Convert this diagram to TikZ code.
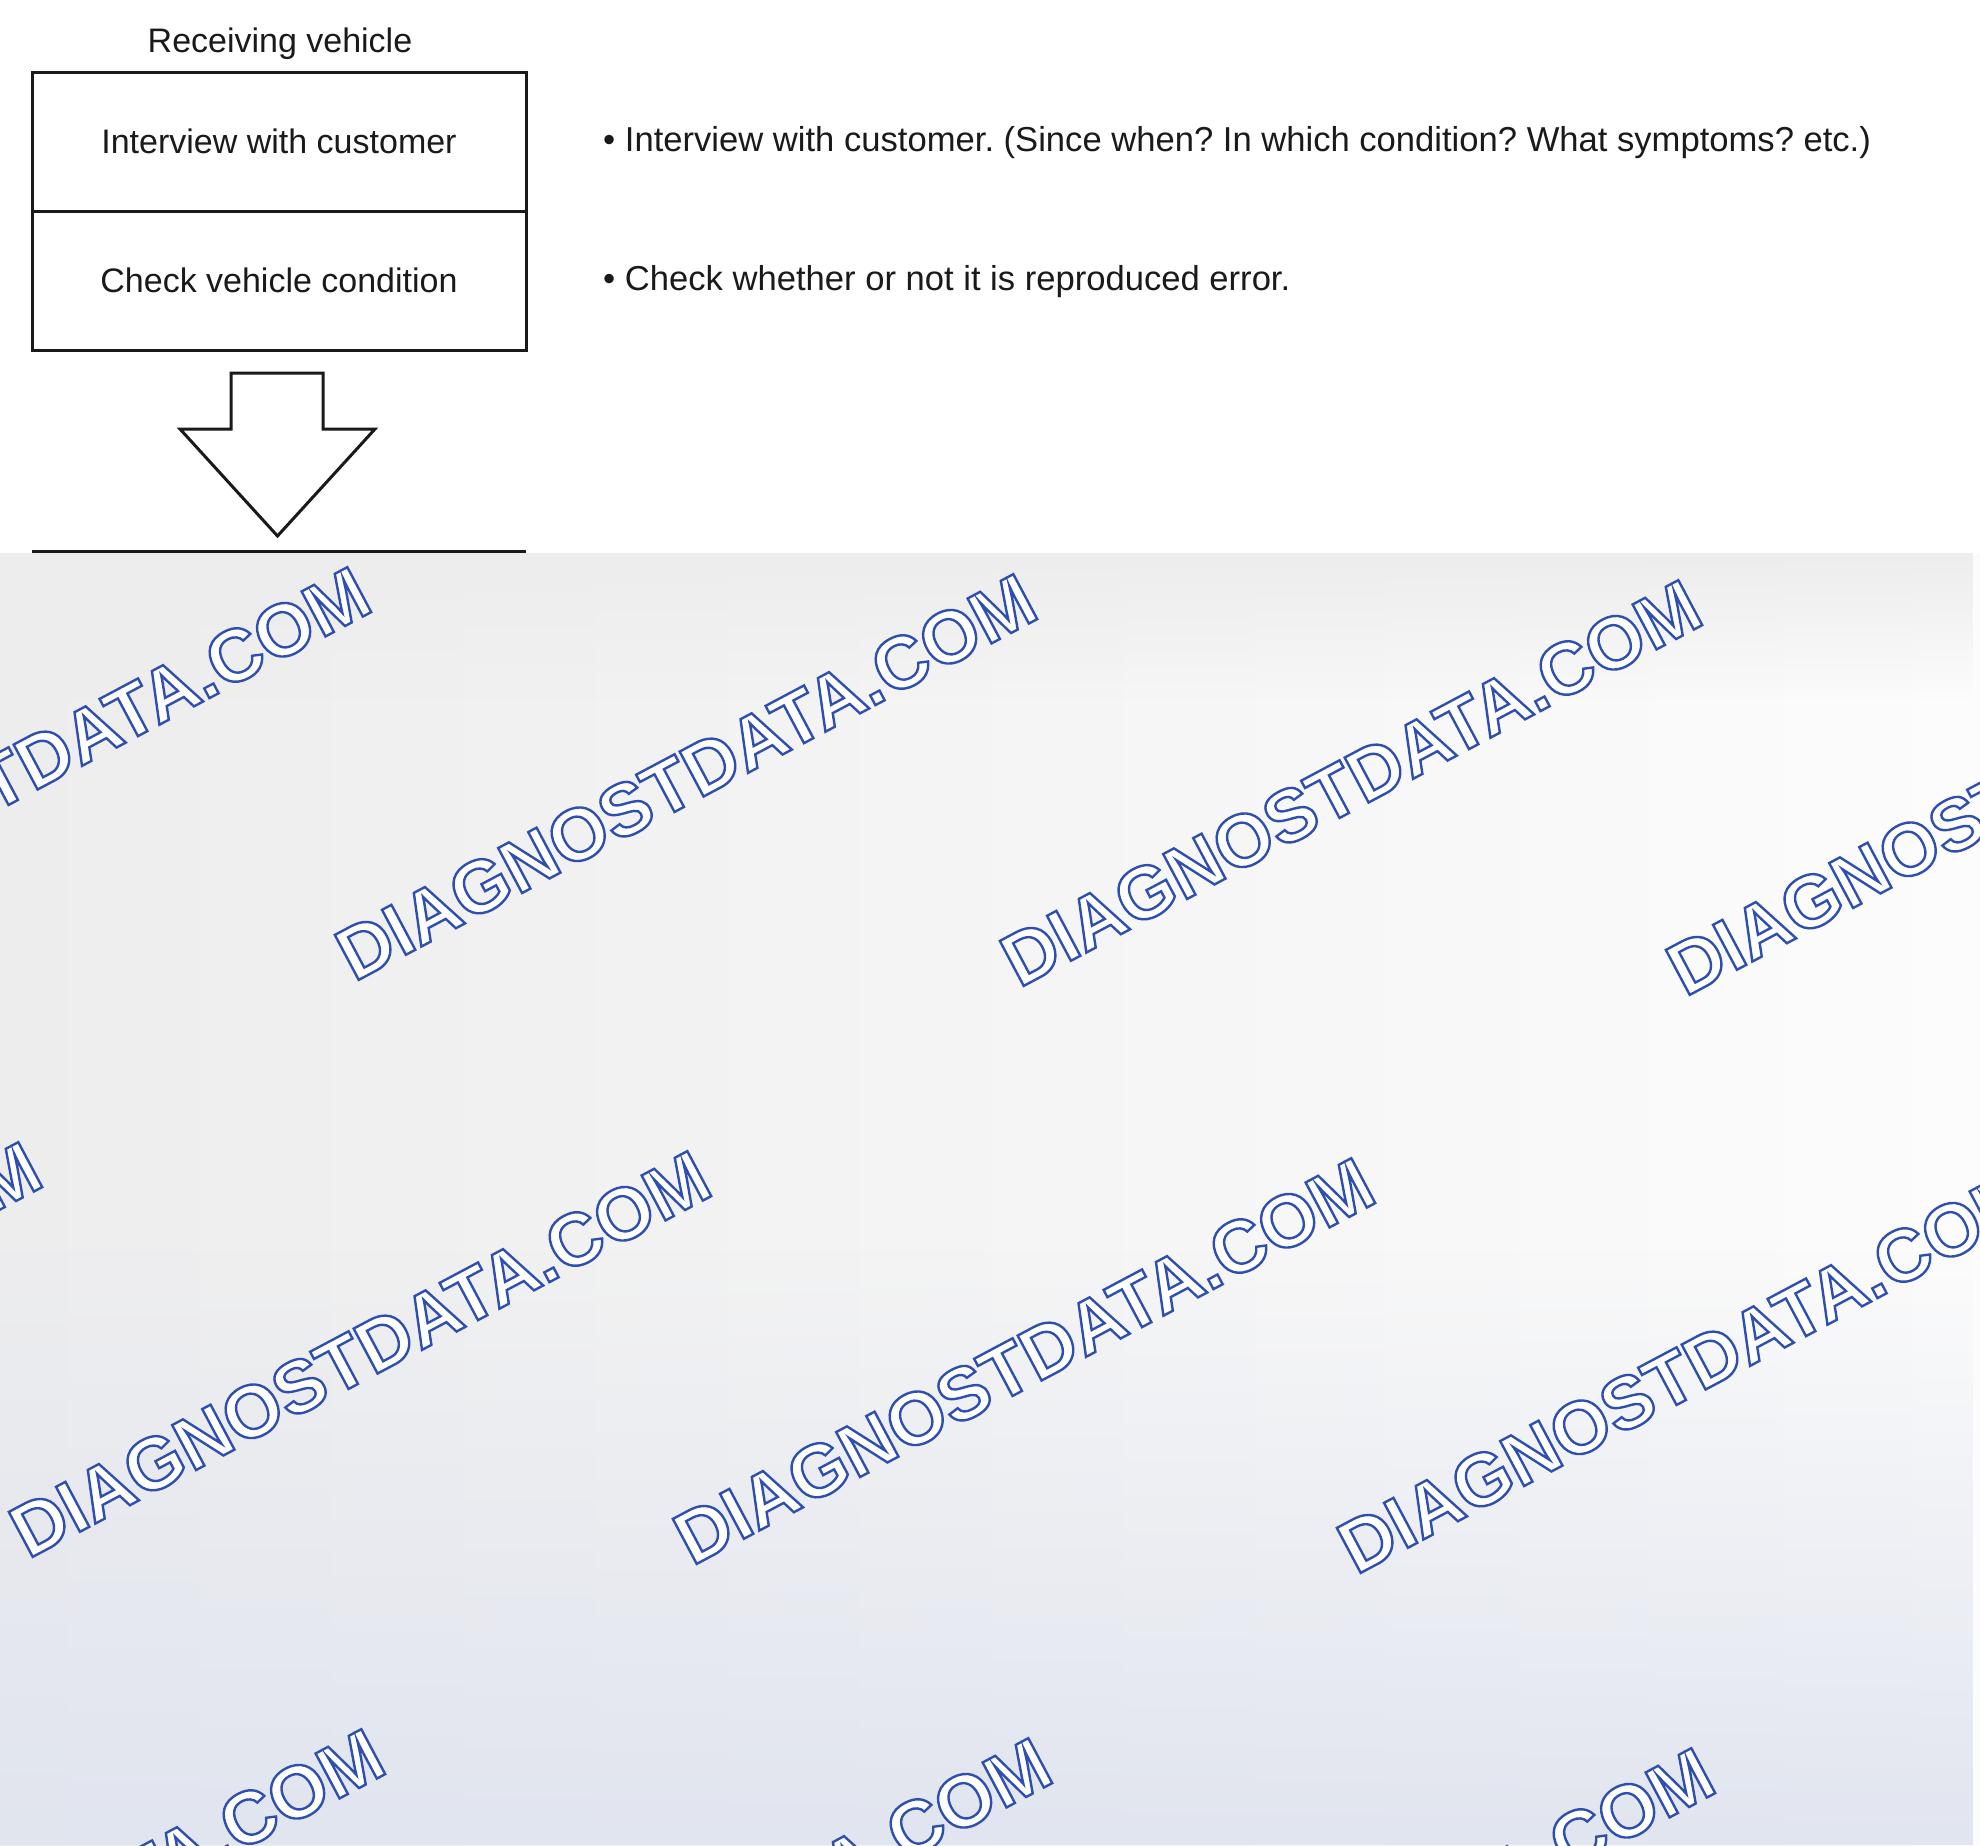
\documentclass[tikz,border=0pt]{standalone}
\usepackage{fontspec}
\setmainfont{Liberation Sans}
\usetikzlibrary{fadings}
\frenchspacing
\definecolor{ink}{HTML}{1A1A1A}
\definecolor{greyleft}{HTML}{EDEDEE}
\definecolor{greyright}{HTML}{FCFCFC}
\definecolor{bluetint}{HTML}{E1E5EF}
\newcommand\wmtext{{\color{white}\special{pdf:literal direct 2 Tr 2.4 w 1 1 1 rg 0.184 0.310 0.690 RG}DIAGNOSTDATA.COM\special{pdf:literal direct 0 Tr}}}
\begin{document}
\begin{tikzpicture}[x=1pt,y=-1pt,
  lbl/.style={font=\fontsize{34}{40}\selectfont, text=ink, inner sep=0pt},
  stepbox/.style={draw=ink, line width=3pt, minimum width=494pt, minimum height=139pt, inner sep=0pt, font=\fontsize{34}{40}\selectfont, text=ink},
  note/.style={font=\fontsize{34.6}{40}\selectfont, text=ink, inner sep=0pt, anchor=west},
  wm/.style={font=\bfseries\fontsize{74}{80}\selectfont, rotate=28, inner sep=0pt}]
\useasboundingbox (0,0) rectangle (1980,1845);
\fill[white] (0,0) rectangle (1980,1845);
% title
\node[lbl] (title) at (280,44) {Receiving vehicle};
% boxes
\node[stepbox] (b1) at (279,141.5) {Interview with customer};
\node[stepbox] (b2) at (279,280.5) {Check vehicle condition};
% notes
\node[note] (n1) at (603,143) {• Interview with customer. (Since when? In which condition? What symptoms? etc.)};
\node[note] (n2) at (603,282) {• Check whether or not it is reproduced error.};
% block arrow
\draw[ink, line width=3pt, line join=miter]
  (231,373) -- (323,373) -- (323,429) -- (375,429) -- (277.5,536) -- (180,429) -- (231,429) -- cycle;
% next box top edge
\coordinate (b3l) at (32,551);
\coordinate (b3r) at (526,551);
\draw[ink, line width=3pt] (b3l) -- (b3r);
% grey overlay
\shade[left color=greyleft, right color=greyright] (0,553) rectangle (1980,1845);
\fill[bluetint, path fading=north] (0,1250) rectangle (1980,1845);
\fill[greyleft, path fading=south] (0,553) rectangle (1980,700);
\begin{scope}
\clip (0,553) rectangle (1980,1845);
\foreach \cx/\cy [count=\i] in {20/770, 686/777, 1351/783, 2017/792,
  -309/1345, 360/1354, 1024/1361, 1688/1370,
  34/1932, 701/1941, 1364/1951, 2029/1960}
  \node[wm] (wm\i) at (\cx,\cy) {\wmtext};
\end{scope}
\end{tikzpicture}
\end{document}
